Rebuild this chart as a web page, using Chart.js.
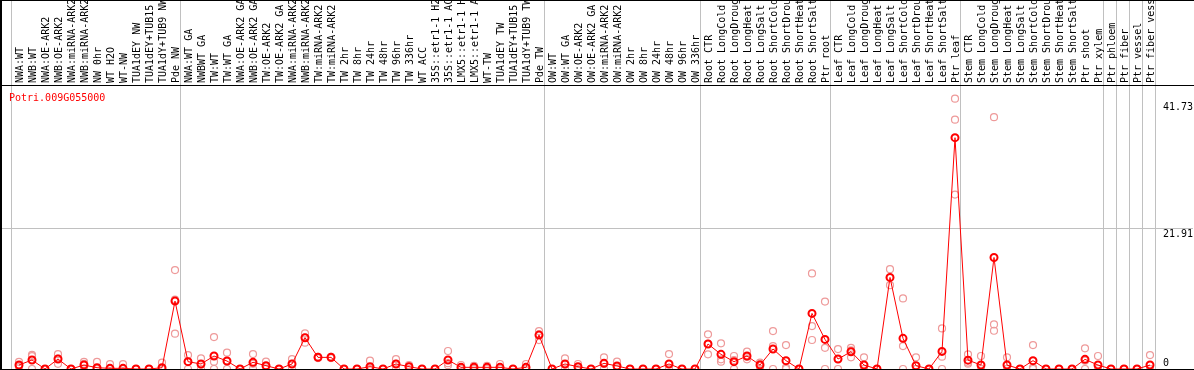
<!DOCTYPE html>
<html><head><meta charset="utf-8">
<script src="https://cdn.jsdelivr.net/npm/chart.js@4/dist/chart.umd.min.js"></script>
<style>html,body{margin:0;padding:0;background:#fff;overflow:hidden}canvas{display:block}</style>
</head><body>
<canvas id="c" width="1194" height="370"></canvas>
<script>
const geneName = 'Potri.009G055000';
const categories = [
 'NWA:WT','NWB:WT','NWA:OE-ARK2','NWB:OE-ARK2','NWA:miRNA-ARK2','NWB:miRNA-ARK2','NW 0hr','WT H2O','WT-NW','TUA1dEY NW','TUA1dEY+TUB15 NW','TUA1dY+TUB9 NW','Pde NW',
 'NWA:WT GA','NWBWT GA','TW:WT','TW:WT GA','NWA:OE-ARK2 GA','NWB:OE-ARK2 GA','TW:OE-ARK2','TW:OE-ARK2 GA','NWA:miRNA-ARK2 GA','NWB:miRNA-ARK2 GA','TW:miRNA-ARK2','TW:miRNA-ARK2 GA',
 'TW 2hr','TW 8hr','TW 24hr','TW 48hr','TW 96hr','TW 336hr','WT ACC','35S::etr1-1 H2O','35S::etr1-1 ACC','LMX5::etr1-1 H2O','LMX5::etr1-1 ACC','WT-TW','TUA1dEY TW','TUA1dEY+TUB15 TW','TUA1dY+TUB9 TW','Pde TW',
 'OW:WT','OW:WT GA','OW:OE-ARK2','OW:OE-ARK2 GA','OW:miRNA-ARK2','OW:miRNA-ARK2 GA','OW 2hr','OW 8hr','OW 24hr','OW 48hr','OW 96hr','OW 336hr',
 'Root CTR','Root LongCold','Root LongDrought','Root LongHeat','Root LongSalt','Root ShortCold','Root ShortDrought','Root ShortHeat','Root ShortSalt','Ptr root',
 'Leaf CTR','Leaf LongCold','Leaf LongDrought','Leaf LongHeat','Leaf LongSalt','Leaf ShortCold','Leaf ShortDrought','Leaf ShortHeat','Leaf ShortSalt','Ptr leaf',
 'Stem CTR','Stem LongCold','Stem LongDrought','Stem LongHeat','Stem LongSalt','Stem ShortCold','Stem ShortDrought','Stem ShortHeat','Stem ShortSalt','Ptr shoot',
 'Ptr xylem','Ptr phloem','Ptr fiber','Ptr vessel','Ptr fiber vessel'
];
const meanValues = [
 0.62,1.40,0,1.55,0,0.62,0.2,0.1,0.1,0,0,0.2,10.57,
 1.14,0.78,2.02,1.24,0,1.04,0.52,0,0.78,4.87,1.81,1.81,
 0,0,0.36,0,0.78,0.36,0,0,1.40,0.26,0.26,0.26,0.26,0,0.26,5.28,
 0,0.78,0.36,0,0.88,0.47,0,0,0,0.78,0,0,
 3.89,2.28,1.14,2.02,0.62,3.11,1.3,0,8.65,4.61,
 1.55,2.69,0.62,0,14.25,4.77,0.52,0,2.74,36.0,
 1.38,0.62,17.36,0.62,0,1.3,0,0,0,1.5,
 0.62,0,0,0,0.62
];
const rep1 = [
 1.1,2.2,0,2.3,0,1.1,1.1,0.76,0.76,0,0,1.0,15.4,
 2.17,1.66,4.97,2.54,0,2.33,1.14,0,1.55,5.54,1.9,1.9,
 0,0,1.3,0,1.55,0.62,0,0,2.8,0.62,0.5,0.5,0.78,0,0.78,5.9,
 0,1.66,0.78,0,1.81,1.14,0,0,0,2.33,0,0,
 5.39,3.99,2.02,2.69,1.0,5.9,3.73,0,14.87,10.5,
 3.1,3.3,1.81,0,15.54,10.98,1.81,0,6.32,42.07,
 2.28,2.02,39.2,1.81,0,3.73,0,0,0,3.21,
 2.02,0,0,0,2.17
];
const rep2 = [
 0.5,2.0,0,1.6,0,0.8,0,0,0,0,0,0,10.8,
 1.2,0.7,1.14,1.2,0,0.8,0.4,0,0.8,4.9,1.8,1.8,
 0,0,0,0,0.8,0.4,0,0,0.9,0.2,0.3,0.3,0,0,0,5.4,
 0,0.7,0.3,0,0.8,0.3,0,0,0,0,0,0,
 3.9,1.5,1.4,1.9,0.8,3.57,0.2,0,6.68,3.3,
 1.55,2.9,0,0,14.2,3.57,0,0,1.92,38.8,
 1.0,0,6.94,0,0,0.2,0,0,0,1.3,
 0,0,0,0,0
];
const rep3 = [
 0.3,0,0,0.8,0,0,0,0,0,0,0,0,5.5,
 0,0,0,0,0,0,0,0,0,4.09,1.7,1.7,
 0,0,0,0,0,0,0,0,0.6,0,0,0,0,0,0,4.5,
 0,0,0,0,0,0,0,0,0,0,0,0,
 2.28,1.14,0,1.5,0,0,0,0,4.51,0,
 0,1.81,0,0,13.05,0,0,0,0,27.15,
 0.83,0,5.95,0,0,0,0,0,0,0,
 0,0,0,0,0
];
const yTickValues = [0, 21.91, 41.73];
const groupEnds = [-1, 12, 40, 52, 62, 72, 83, 84, 85, 86, 87];

const toPts = arr => arr.map((v, i) => ({x: i, y: v}));
const repStyle = {showLine:false, pointRadius:3.5, pointBorderWidth:1.2, pointBorderColor:'#ee9a9a', pointBackgroundColor:'rgba(0,0,0,0)', borderColor:'#ee9a9a', pointHoverRadius:3.5};

const decor = {
  id:'decor',
  beforeDatasetsDraw(chart){
    const {ctx, chartArea:a, scales:{x}} = chart;
    ctx.save(); ctx.fillStyle = '#c0c0c0';
    groupEnds.forEach(g => { const px = Math.round(x.getPixelForValue(g + 0.4)); ctx.fillRect(px, 0, 1, a.bottom); });
    ctx.restore();
  },
  afterDraw(chart){
    const {ctx, chartArea:a, scales:{x, y}} = chart;
    ctx.save();
    ctx.fillStyle = '#000';
    ctx.fillRect(0, 0, chart.width, 1);
    ctx.fillRect(0, 0, 2, chart.height);
    ctx.fillRect(0, a.top, chart.width, 1);
    ctx.fillRect(0, a.bottom, chart.width, 1);
    ctx.font = '10px "DejaVu Sans Mono"';
    ctx.textAlign = 'left'; ctx.textBaseline = 'alphabetic';
    categories.forEach((c, i) => {
      const px = x.getPixelForValue(i);
      ctx.save(); ctx.translate(px + 4, a.top - 2); ctx.rotate(-Math.PI / 2); ctx.fillText(c, 0, 0); ctx.restore();
    });
    yTickValues.forEach(v => {
      const py = y.getPixelForValue(v);
      ctx.fillText(String(v), a.right - 30, v === 0 ? py - 3 : py + 9);
    });
    ctx.fillStyle = '#ff0000';
    ctx.fillText(geneName, 9, a.top + 15.5);
    ctx.restore();
  }
};

new Chart(document.getElementById('c'), {
  type:'line',
  data:{ datasets:[
    {data:toPts(meanValues), borderColor:'#ff0000', borderWidth:1, pointRadius:3.5, pointBorderWidth:2, pointBorderColor:'#ff0000', pointBackgroundColor:'rgba(0,0,0,0)', tension:0},
    Object.assign({data:toPts(rep1)}, repStyle),
    Object.assign({data:toPts(rep2)}, repStyle),
    Object.assign({data:toPts(rep3)}, repStyle)
  ]},
  options:{
    responsive:false, animation:false, devicePixelRatio:1, events:[],
    layout:{autoPadding:false, padding:{top:85, left:1, right:1, bottom:1}},
    plugins:{legend:{display:false}, tooltip:{enabled:false}},
    scales:{
      x:{type:'linear', display:false, min:-18/13, max:-18/13 + 1192/13},
      y:{min:0, max:44.2, display:true,
        afterBuildTicks: s => { s.ticks = yTickValues.map(v => ({value:v})); },
        afterFit: s => { s.width = 0; },
        ticks:{display:false}, border:{display:false},
        grid:{drawTicks:false, lineWidth:1, color: c => (c.tick && c.tick.value === 21.91) ? '#c0c0c0' : 'rgba(0,0,0,0)'}
      }
    }
  },
  plugins:[decor]
});
</script>
</body></html>
